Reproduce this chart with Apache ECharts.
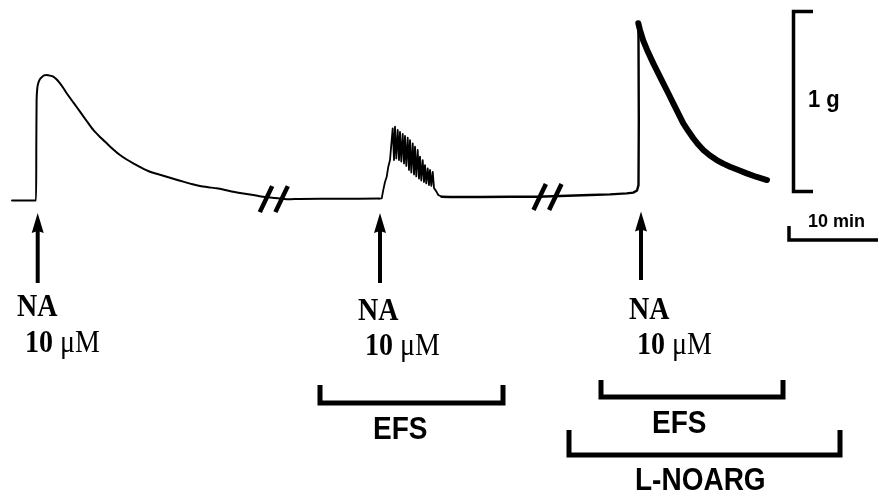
<!DOCTYPE html>
<html><head><meta charset="utf-8">
<script src="https://cdn.jsdelivr.net/npm/echarts@6/dist/echarts.min.js"></script>
<style>html,body{margin:0;padding:0;background:#fff}#c{width:878px;height:497px}</style>
</head><body><div id="c"></div>
<script>
// ---- data: time (min), tension (g) ----
// NA 10 µM alone
const traceControl = [
[1.2,-0.003],[3.6,-0.003],[3.63,0.278],[3.66,0.556],[3.73,0.622],[3.83,0.65],[4.0,0.672],[4.17,0.682],[4.4,0.692],[4.67,0.694],[5.0,0.691],[5.33,0.685],[5.67,0.669],[6.0,0.648],[6.33,0.622],[6.67,0.593],[7.33,0.542],[8.0,0.491],[8.67,0.439],[9.33,0.389],[10.0,0.35],[10.67,0.315],[11.33,0.281],[12.0,0.25],[12.67,0.225],[13.33,0.204],[14.17,0.179],[15.0,0.157],[15.83,0.143],[16.67,0.129],[17.5,0.115],[18.33,0.102],[19.17,0.089],[20.0,0.078],[20.83,0.071],[21.67,0.065],[22.5,0.056],[23.33,0.046],[24.33,0.036],[25.33,0.028],[26.33,0.018],[27.5,0.011],[28.83,0.004],[30.0,0.006],[34.0,0.007],[37.9,0.008]
];
// NA 10 µM + EFS
const traceEFS = [
[37.9,0.008],[38.17,0.009],[38.33,0.056],[38.5,0.1],[38.67,0.129],[38.83,0.185],[39.0,0.222],
[39.27,0.398],[39.4,0.222],[39.5,0.407],[39.63,0.231],[39.77,0.389],[39.9,0.222],[40.0,0.379],[40.13,0.214],[40.27,0.367],[40.4,0.203],[40.5,0.356],[40.63,0.189],[40.77,0.346],[40.9,0.167],[41.0,0.333],[41.13,0.153],[41.27,0.315],[41.4,0.142],[41.5,0.296],[41.63,0.131],[41.77,0.278],[41.9,0.119],[42.0,0.241],[42.13,0.108],[42.27,0.222],[42.4,0.1],[42.5,0.194],[42.63,0.092],[42.77,0.176],[42.9,0.083],[43.0,0.167],[43.13,0.078],[43.27,0.156],[43.4,0.067],
[43.5,0.067],[43.67,0.044],[43.83,0.028],[44.17,0.018]
];
// wash, then NA 10 µM + EFS in presence of L-NOARG (rise)
const traceNoargRise = [
[44.17,0.018],[45.0,0.017],[48.0,0.017],[51.0,0.018],[53.7,0.018],[56.0,0.022],[59.0,0.028],[61.0,0.031],[62.67,0.037],[63.33,0.041],[63.7,0.053],[63.85,0.083],[63.88,0.444],[63.85,0.889],[63.83,0.982]
];
// relaxation phase (thick, fast EFS oscillations)
const traceNoargDecay = [
[63.83,0.982],[64.0,0.944],[64.3,0.889],[64.8,0.822],[65.33,0.759],[65.83,0.704],[66.33,0.648],[66.83,0.593],[67.33,0.537],[67.83,0.481],[68.33,0.426],[68.83,0.383],[69.33,0.343],[69.83,0.308],[70.33,0.278],[71.0,0.247],[71.67,0.222],[72.33,0.202],[73.0,0.185],[73.83,0.167],[74.67,0.148],[75.67,0.128],[76.7,0.111]
];
// annotations
const naTimes = [3.77, 38.0, 64.1];
const naLabels = ['NA', 'NA', 'NA'];
const concLabels = ['10 μM', '10 μM', '10 μM'];
const efsPeriods = [[32.0, 50.3], [60.1, 78.3]];
const efsLabel = 'EFS';
const noargPeriod = [56.9, 84.0];
const noargLabel = 'L-NOARG';
const breakMarks = [[27.38, 0.005], [54.75, 0.017]];
const scaleTime = 10, scaleTimeLabel = '10 min';
const scaleTension = 1, scaleTensionLabel = '1 g';

const chart = echarts.init(document.getElementById('c'), null, {renderer: 'canvas'});
function ln(data, w, smooth) {
  return {type: 'line', data: data, showSymbol: false, symbol: 'none', smooth: smooth || false, clip: false,
    lineStyle: {color: '#000', width: w, join: 'round', cap: 'round'}, silent: true};
}
chart.setOption({
  animation: false,
  backgroundColor: '#fff',
  grid: {left: 0, right: 0, top: 0, bottom: 0},
  xAxis: {type: 'value', min: 0, max: 87.8, show: false},
  yAxis: {type: 'value', min: -297 / 180, max: 200 / 180, show: false},
  series: [ln(traceControl, 2, 0.2), ln(traceEFS, 1.8), ln(traceNoargRise, 2.4), ln(traceNoargDecay, 6)]
});

const P = (t, g) => chart.convertToPixel({gridIndex: 0}, [t, g]);
const els = [];
const serif = '"Liberation Serif", "Times New Roman", serif';
const sans = '"Liberation Sans", Arial, sans-serif';
function line(pts, w) {
  els.push({type: 'polyline', shape: {points: pts}, style: {stroke: '#000', lineWidth: w, fill: null, lineJoin: 'miter', lineCap: 'butt'}, z: 10});
}
function text(x, y, str, font, sy, rich) {
  const st = {text: str, font: font, fill: '#000', align: 'left', verticalAlign: 'middle', textAlign: 'left', textVerticalAlign: 'middle'};
  if (rich) st.rich = rich;
  els.push({type: 'text', x: x, y: y, scaleY: sy, style: st, z: 10});
}
// break marks
breakMarks.forEach(b => {
  const [cx, cy] = P(b[0], b[1]);
  [-7.8, 7.8].forEach(o => line([[cx + o - 6.2, cy + 13], [cx + o + 6.2, cy - 13]], 4.5));
});
// arrows
const arrowTip = [213, 213, 211.5], arrowEnd = [283, 283, 280];
naTimes.forEach((t, i) => {
  const x = P(t, 0)[0];
  els.push({type: 'polygon', shape: {points: [[x, arrowTip[i]], [x - 6, arrowTip[i] + 20], [x, arrowTip[i] + 18], [x + 6, arrowTip[i] + 20]]}, style: {fill: '#000'}, z: 10});
  line([[x, arrowTip[i] + 12], [x, arrowEnd[i]]], 4);
});
// NA labels
const naPos = [[17, 307.5, 25, 344], [358, 312, 365, 347], [629, 311, 637, 346]];
naPos.forEach((p, i) => {
  text(p[0], p[1], naLabels[i], 'bold 28px ' + serif, 1.12);
  const parts = concLabels[i].split(' ');
  text(p[2], p[3], '{b|' + parts[0] + '} {r|' + parts[1] + '}', '28px ' + serif, 1.12,
    {b: {font: 'bold 28px ' + serif, fill: '#000'}, r: {font: '28px ' + serif, fill: '#000'}});
});
// EFS brackets
const efsY = [[385, 403], [380, 397]];
efsPeriods.forEach((p, i) => {
  const x0 = P(p[0], 0)[0], x1 = P(p[1], 0)[0];
  line([[x0, efsY[i][0]], [x0, efsY[i][1]], [x1, efsY[i][1]], [x1, efsY[i][0]]], 5);
});
text(373, 431, efsLabel, 'bold 28px ' + sans, 1.1);
text(652, 424.5, efsLabel, 'bold 28px ' + sans, 1.1);
// L-NOARG bracket
{
  const x0 = P(noargPeriod[0], 0)[0], x1 = P(noargPeriod[1], 0)[0];
  line([[x0, 430], [x0, 455], [x1, 455], [x1, 430]], 5);
  text(635, 481.5, noargLabel, 'bold 28px ' + sans, 1.12);
}
// scale bars
{
  const h = P(0, 0)[1] - P(0, scaleTension)[1];
  const bx = 793.5, bb = 191.5;
  line([[813, bb - h], [bx, bb - h], [bx, bb], [813, bb]], 3.5);
  text(808, 100, scaleTensionLabel, 'bold 22px ' + sans, 1.1);
  const w = P(scaleTime, 0)[0] - P(0, 0)[0];
  line([[789, 226], [789, 240], [789 + w, 240]], 3.5);
  text(808, 221.5, scaleTimeLabel, 'bold 18px ' + sans, 1.05);
}
chart.setOption({graphic: {elements: els}});
</script>
</body></html>
